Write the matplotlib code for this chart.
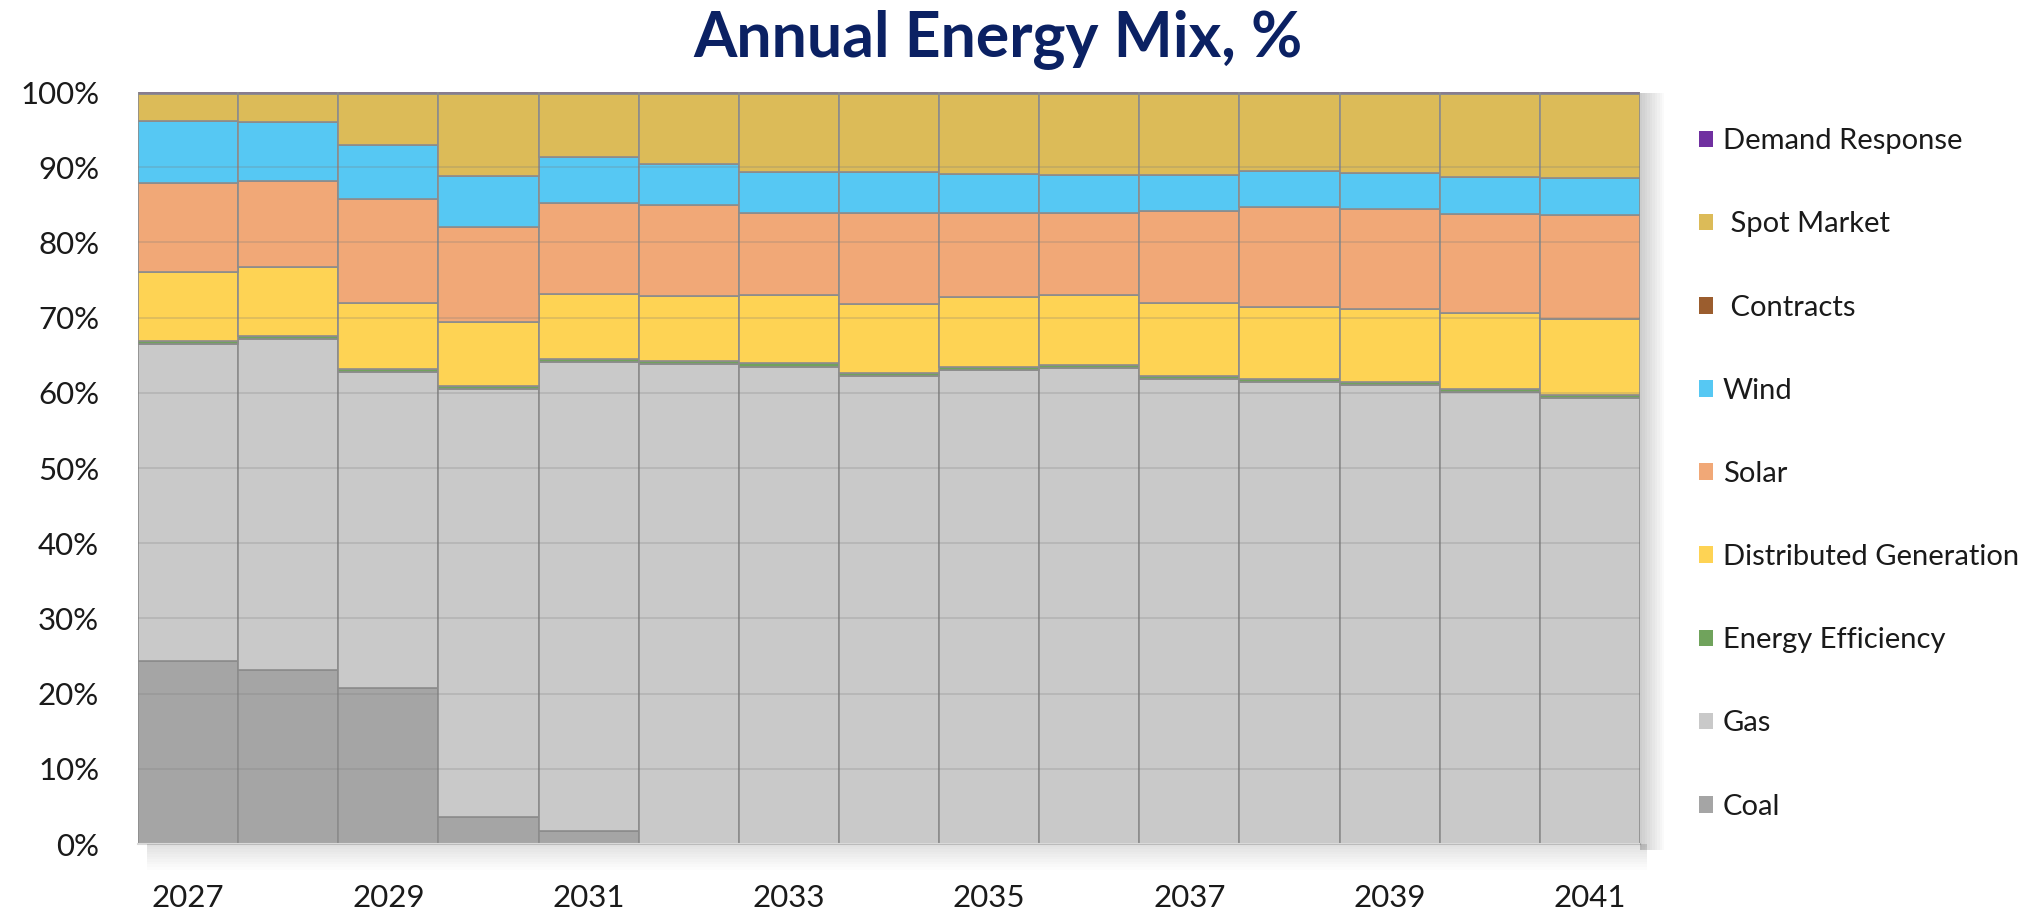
import numpy as np
import matplotlib
matplotlib.use('Agg')
import matplotlib.pyplot as plt
from matplotlib.patches import Patch, Rectangle

# annual energy mix, % of total
years = list(range(2027, 2042))
coal = [24.4, 23.1, 20.7, 3.6, 1.8, 0, 0, 0, 0, 0, 0, 0, 0, 0, 0]
gas = [42.1, 44.1, 42.1, 56.9, 62.3, 63.8, 63.5, 62.2, 63.1, 63.3, 61.9, 61.4, 61.0, 60.1, 59.3]
eff = [0.4] * 15
dist_gen = [9.1, 9.1, 8.8, 8.5, 8.6, 8.7, 9.1, 9.2, 9.2, 9.3, 9.7, 9.6, 9.8, 10.1, 10.1]
solar = [11.9, 11.5, 13.8, 12.7, 12.2, 12.1, 10.9, 12.1, 11.2, 10.9, 12.2, 13.3, 13.3, 13.2, 13.8]
wind = [8.3, 7.8, 7.2, 6.7, 6.1, 5.4, 5.4, 5.4, 5.2, 5.1, 4.8, 4.8, 4.7, 4.9, 4.9]
contracts = [0] * 15
spot = [3.5, 3.7, 6.7, 10.9, 8.3, 9.3, 10.4, 10.4, 10.6, 10.7, 10.7, 10.2, 10.5, 11.0, 11.2]
demand = [0.3] * 15

series = [
    ("Coal", coal, "#a5a5a5"),
    ("Gas", gas, "#c9c9c9"),
    ("Energy Efficiency", eff, "#70a35c"),
    ("Distributed Generation", dist_gen, "#fed354"),
    ("Solar", solar, "#f1a877"),
    ("Wind", wind, "#56c8f3"),
    (" Contracts", contracts, "#9b5d2e"),
    (" Spot Market", spot, "#dcbb58"),
    ("Demand Response", demand, "#7030a0"),
]

font = ['Lato', 'DejaVu Sans']
plt.rcParams['font.family'] = font

fig = plt.figure(figsize=(20.36, 9.11), dpi=100)
ax = fig.add_axes([0.0678, 0.0735, 0.7377, 0.8255])

x = np.arange(len(years))
bottom = np.zeros(len(years))
for name, vals, col in series:
    vals = np.array(vals, dtype=float)
    ax.bar(x, vals, width=1.0, bottom=bottom, color=col, edgecolor='#8c8c8c',
           linewidth=1.2, zorder=2)
    bottom += vals

# faint gridlines showing through the bars
for g in np.arange(10, 100, 10):
    ax.axhline(g, color='#7a7a7a', alpha=0.25, linewidth=1.3, zorder=3)

ax.set_xlim(-0.5, len(years) - 0.5)
ax.set_ylim(0, 100)
ax.set_yticks(np.arange(0, 101, 10))
ax.set_yticklabels([f"{v}%" for v in range(0, 101, 10)], fontsize=22.5, color='#1a1a1a')
ax.set_xticks(x[::2])
ax.set_xticklabels([str(y) for y in years[::2]], fontsize=22.5, color='#1a1a1a')
ax.tick_params(axis='y', length=0, pad=28)
ax.tick_params(axis='x', length=0, pad=29)
for s in ['top', 'right', 'left']:
    ax.spines[s].set_visible(False)
ax.spines['bottom'].set_color('#d9d9d9')
ax.spines['bottom'].set_linewidth(1.5)

# soft shadow on the right and below the plot (overlapping strips -> smooth fade)
for i in range(10):
    fig.patches.append(Rectangle((0.8055, 0.0735 - 0.006), 0.0012 * (i + 1), 0.83,
                                 transform=fig.transFigure, color='#000000',
                                 alpha=0.018, linewidth=0, zorder=0))
    fig.patches.append(Rectangle((0.072, 0.0735 - 0.0028 * (i + 1)), 0.737, 0.0028 * (i + 1),
                                 transform=fig.transFigure, color='#000000',
                                 alpha=0.012, linewidth=0, zorder=0))

fig.suptitle("Annual Energy Mix, %", x=0.49, y=0.99, va='top', fontsize=45,
             fontweight='bold', color='#0b2163')

handles = [Patch(facecolor=col, edgecolor='none', label=name) for name, vals, col in series[::-1]]
leg = fig.legend(handles=handles, loc='upper left', bbox_to_anchor=(0.8215, 0.888),
                 frameon=False, fontsize=21, labelspacing=1.96, handlelength=0.5,
                 handleheight=0.5, handletextpad=0.32)
for t in leg.get_texts():
    t.set_color('#1a1a1a')

fig.savefig("out.png", dpi=100)
